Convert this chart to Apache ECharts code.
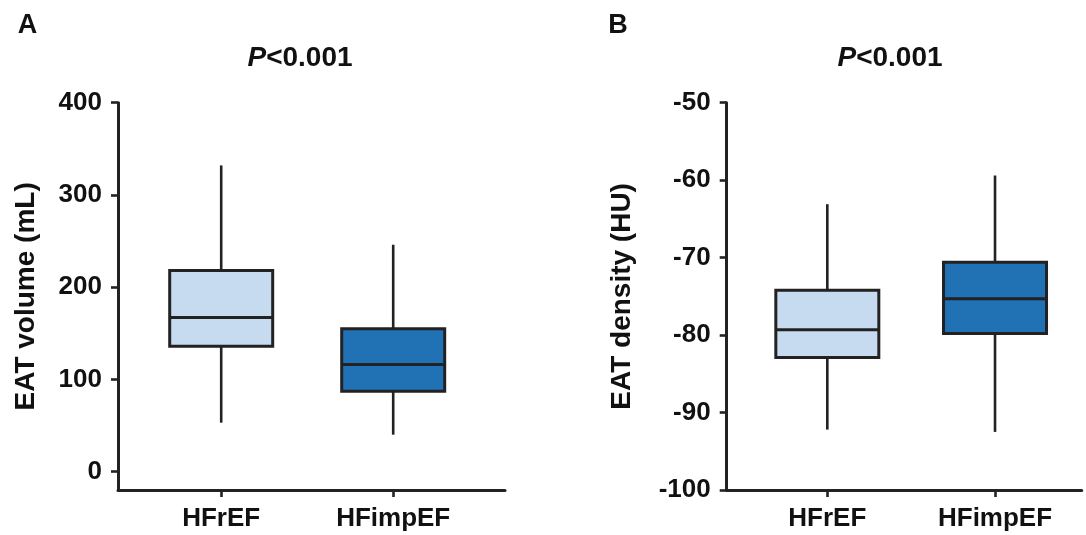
<!DOCTYPE html>
<html>
<head>
<meta charset="utf-8">
<script src="https://cdn.jsdelivr.net/npm/echarts@6/dist/echarts.min.js"></script>
<style>html,body{margin:0;padding:0;background:#fff}#c{width:1086px;height:535px}</style>
</head>
<body>
<div id="c"></div>
<script>
// ---- data ----
const categories = ['HFrEF', 'HFimpEF'];
// [min, Q1, median, Q3, max]
const volumeStats = [
  [53, 136, 167, 218, 332],
  [40, 87, 116, 155, 246]
];
const densityStats = [
  [-92.2, -82.9, -79.3, -74.2, -63.1],
  [-92.5, -79.8, -75.3, -70.6, -59.4]
];
const volumeTicks = [0, 100, 200, 300, 400];
const densityTicks = [-100, -90, -80, -70, -60, -50];
const panelTitles = ['A', 'B'];
const pText = '<0.001';
const yNames = ['EAT volume (mL)', 'EAT density (HU)'];

// ---- styles ----
const FONT = '"Liberation Sans", Arial, sans-serif';
const fills = ['#c6dbef', '#2171b5'];
const INK = '#222222';
const BOX_PX = 103;

function toData(stats) {
  return stats.map((s, i) => [i + 1].concat(s));
}

function renderBox(params, api) {
  const x = api.value(0);
  const pMin = api.coord([x, api.value(1)]);
  const pQ1 = api.coord([x, api.value(2)]);
  const pMed = api.coord([x, api.value(3)]);
  const pQ3 = api.coord([x, api.value(4)]);
  const pMax = api.coord([x, api.value(5)]);
  const h = BOX_PX / 2;
  const lineStyle = { stroke: INK, lineWidth: 2.6 };
  return {
    type: 'group',
    children: [
      { type: 'line', shape: { x1: pMax[0], y1: pMax[1], x2: pQ3[0], y2: pQ3[1] }, style: lineStyle },
      { type: 'line', shape: { x1: pQ1[0], y1: pQ1[1], x2: pMin[0], y2: pMin[1] }, style: lineStyle },
      { type: 'rect', shape: { x: pQ3[0] - h, y: pQ3[1], width: BOX_PX, height: pQ1[1] - pQ3[1] },
        style: { fill: fills[params.dataIndex], stroke: INK, lineWidth: 3 } },
      { type: 'line', shape: { x1: pMed[0] - h, y1: pMed[1], x2: pMed[0] + h, y2: pMed[1] },
        style: { stroke: INK, lineWidth: 3 } }
    ]
  };
}

const axisLine = { show: true, onZero: false, lineStyle: { color: INK, width: 3 } };
const axisTick = { show: true, inside: false, length: 7, lineStyle: { color: INK, width: 2.6 } };
const labelStyle = { color: '#111', fontFamily: FONT, fontWeight: 'bold', fontSize: 26 };

function xAxisFor(gridIndex, max) {
  return {
    type: 'value', gridIndex, min: 0.4, max,
    axisLine, splitLine: { show: false },
    axisTick: Object.assign({ customValues: [1, 2] }, axisTick),
    axisLabel: Object.assign({ customValues: [1, 2], margin: 16,
      formatter: v => categories[Math.round(v) - 1] || '' }, labelStyle)
  };
}
function yAxisFor(gridIndex, min, max, ticks, name, gap) {
  return {
    type: 'value', gridIndex, min, max,
    axisLine, splitLine: { show: false },
    axisTick: Object.assign({ customValues: ticks }, axisTick),
    axisLabel: Object.assign({ customValues: ticks, margin: 16 }, labelStyle),
    name, nameLocation: 'middle', nameGap: gap, nameRotate: 90,
    nameTextStyle: { color: '#111', fontFamily: FONT, fontWeight: 'bold', fontSize: 28 }
  };
}

function titleText(x, y) {
  return {
    type: 'text', x, y,
    style: {
      text: '{i|P}{n|' + pText + '}',
      align: 'center', verticalAlign: 'middle',
      rich: {
        i: { fontFamily: FONT, fontWeight: 'bold', fontStyle: 'italic', fontSize: 28, fill: '#111' },
        n: { fontFamily: FONT, fontWeight: 'bold', fontSize: 28, fill: '#111' }
      }
    }
  };
}
function letterText(t, x, y) {
  return { type: 'text', x, y, style: { text: t, align: 'center', verticalAlign: 'middle',
    fontFamily: FONT, fontWeight: 'bold', fontSize: 27, fill: '#111' } };
}

const chart = echarts.init(document.getElementById('c'), null, { renderer: 'canvas' });
chart.setOption({
  animation: false,
  backgroundColor: '#fff',
  grid: [
    { left: 118, top: 102.7, width: 387, height: 387.3 },
    { left: 726.7, top: 102.7, width: 355, height: 387.3 }
  ],
  xAxis: [xAxisFor(0, 2.65), xAxisFor(1, 0.4 + 355 / 167.7)],
  yAxis: [
    yAxisFor(0, -20, 400, volumeTicks, yNames[0], 78),
    yAxisFor(1, -100, -50, densityTicks, yNames[1], 90)
  ],
  series: [
    { type: 'custom', xAxisIndex: 0, yAxisIndex: 0, renderItem: renderBox,
      encode: { x: 0, y: [1, 2, 3, 4, 5] }, data: toData(volumeStats) },
    { type: 'custom', xAxisIndex: 1, yAxisIndex: 1, renderItem: renderBox,
      encode: { x: 0, y: [1, 2, 3, 4, 5] }, data: toData(densityStats) }
  ],
  graphic: [
    letterText(panelTitles[0], 27.5, 26),
    letterText(panelTitles[1], 618, 26),
    titleText(300, 58),
    titleText(890, 58)
  ]
});
</script>
</body>
</html>
